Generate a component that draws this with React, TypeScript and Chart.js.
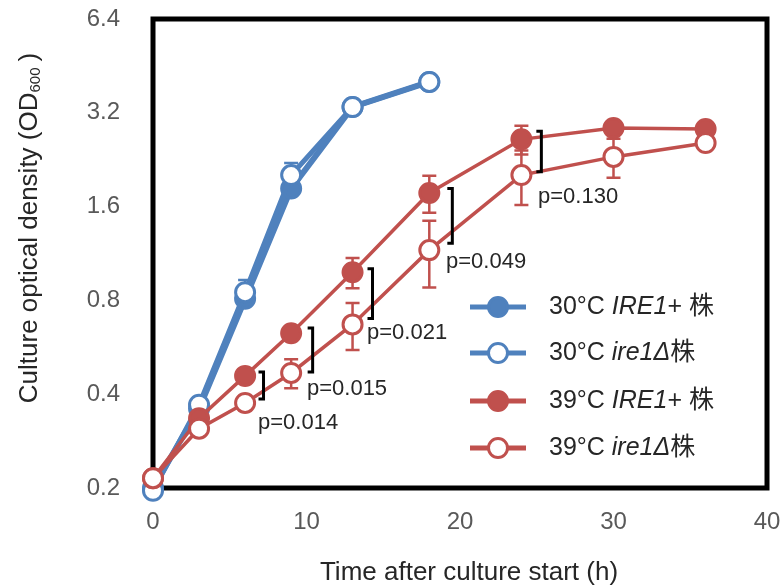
import React, { useEffect, useRef } from "react";
import { Chart, registerables } from "chart.js";

Chart.register(...registerables);

// ---- data ----
const blueTimes = [0, 3, 6, 9, 13, 18];
const redTimes = [0, 3, 6, 9, 13, 18, 24, 30, 36];

const ire1Plus30 = [0.2, 0.36, 0.81, 1.83, 3.34, 4.02];
const ire1Plus30Err = [0.005, 0.01, 0.03, 0.08, 0.05, 0.05];
const ire1Del30 = [0.196, 0.37, 0.85, 2.02, 3.34, 4.02];
const ire1Del30Err = [0.005, 0.02, 0.08, 0.19, 0.05, 0.05];

const ire1Plus39 = [0.215, 0.335, 0.458, 0.628, 0.985, 1.77, 2.63, 2.86, 2.84];
const ire1Plus39Err = [0.004, 0.01, 0.02, 0.02, 0.11, 0.24, 0.28, 0.05, 0.04];
const ire1Del39 = [0.215, 0.31, 0.375, 0.468, 0.67, 1.16, 2.02, 2.31, 2.56];
const ire1Del39Err = [0.004, 0.01, 0.02, 0.05, 0.115, 0.28, 0.4, 0.33, 0.04];

const yTicks = [0.2, 0.4, 0.8, 1.6, 3.2, 6.4];
const xTicks = [0, 10, 20, 30, 40];

const pLabels = ["p=0.014", "p=0.015", "p=0.021", "p=0.049", "p=0.130"];
const bracketTimes = [7.2, 10.4, 14.3, 19.5, 25.3];
const bracketTop = [0.471, 0.652, 1.01, 1.83, 2.79];
const bracketBottom = [0.386, 0.471, 0.7, 1.22, 2.07];
const pLabelTimes = [6.84, 10.03, 13.94, 19.09, 25.08];
const pLabelValues = [0.323, 0.416, 0.628, 1.06, 1.72];

const legendParts = [
  [["30°C ", false], ["IRE1", true], ["+ ", false], ["株", false]],
  [["30°C ", false], ["ire1Δ", true], ["株", false]],
  [["39°C ", false], ["IRE1", true], ["+ ", false], ["株", false]],
  [["39°C ", false], ["ire1Δ", true], ["株", false]],
];

const BLUE = "#4F81BD";
const RED = "#C0504D";
const FONT = '"Liberation Sans", Arial, "Noto Sans CJK JP", sans-serif';

const toPoints = (xs: number[], ys: number[]) => xs.map((x, i) => ({ x, y: ys[i] }));

const framePlugin = {
  id: "frameAndErrors",
  beforeDatasetsDraw(chart: any) {
    const { ctx, chartArea } = chart;
    const xs = chart.scales.x;
    const ys = chart.scales.y;
    ctx.save();
    ctx.strokeStyle = "#000";
    ctx.lineWidth = 5;
    ctx.strokeRect(chartArea.left, chartArea.top, chartArea.right - chartArea.left, chartArea.bottom - chartArea.top);
    // error bars
    chart.data.datasets.forEach((ds: any) => {
      const errs: number[] = ds.errors;
      if (!errs) return;
      ctx.strokeStyle = ds.borderColor;
      ctx.lineWidth = 2.5;
      ds.data.forEach((p: any, i: number) => {
        const e = errs[i];
        const px = xs.getPixelForValue(p.x);
        const top = ys.getPixelForValue(p.y + e);
        const bot = ys.getPixelForValue(Math.max(p.y - e, 0.01));
        ctx.beginPath();
        ctx.moveTo(px, top);
        ctx.lineTo(px, bot);
        ctx.moveTo(px - 7, top);
        ctx.lineTo(px + 7, top);
        ctx.moveTo(px - 7, bot);
        ctx.lineTo(px + 7, bot);
        ctx.stroke();
      });
    });
    ctx.restore();
  },
  afterDatasetsDraw(chart: any) {
    const { ctx } = chart;
    const xs = chart.scales.x;
    const ys = chart.scales.y;
    ctx.save();
    // brackets
    ctx.strokeStyle = "#000";
    ctx.lineWidth = 3;
    bracketTimes.forEach((t, i) => {
      const px = xs.getPixelForValue(t);
      const t1 = ys.getPixelForValue(bracketTop[i]);
      const b1 = ys.getPixelForValue(bracketBottom[i]);
      ctx.beginPath();
      ctx.moveTo(px - 5, t1);
      ctx.lineTo(px, t1);
      ctx.lineTo(px, b1);
      ctx.lineTo(px - 5, b1);
      ctx.stroke();
    });
    // p labels
    ctx.fillStyle = "#262626";
    ctx.font = `22px ${FONT}`;
    ctx.textAlign = "left";
    ctx.textBaseline = "middle";
    pLabels.forEach((s, i) => {
      ctx.fillText(s, xs.getPixelForValue(pLabelTimes[i]), ys.getPixelForValue(pLabelValues[i]));
    });
    ctx.restore();
  },
  afterDraw(chart: any) {
    const { ctx } = chart;
    ctx.save();
    // legend
    const rowsY = [307, 353, 401, 448];
    chart.data.datasets.forEach((ds: any, i: number) => {
      const y = rowsY[i];
      ctx.strokeStyle = ds.borderColor;
      ctx.lineWidth = 5;
      ctx.beginPath();
      ctx.moveTo(470, y);
      ctx.lineTo(526, y);
      ctx.stroke();
      ctx.beginPath();
      ctx.arc(498, y, 9.5, 0, Math.PI * 2);
      ctx.fillStyle = ds.pointBackgroundColor;
      ctx.fill();
      ctx.lineWidth = 3;
      ctx.stroke();
      let x = 549;
      ctx.fillStyle = "#262626";
      ctx.textBaseline = "middle";
      ctx.textAlign = "left";
      (legendParts[i] as any[]).forEach(([txt, it]: [string, boolean]) => {
        ctx.font = `${it ? "italic " : ""}25px ${FONT}`;
        ctx.fillText(txt, x, y);
        x += ctx.measureText(txt).width;
      });
    });
    // x title
    ctx.fillStyle = "#262626";
    ctx.font = `26px ${FONT}`;
    ctx.textAlign = "center";
    ctx.textBaseline = "middle";
    ctx.fillText("Time after culture start (h)", 469, 573);
    // y title with subscript
    ctx.translate(30, 228);
    ctx.rotate(-Math.PI / 2);
    const main = "Culture optical density (OD";
    const sub = "600";
    const end = ")";
    ctx.font = `26px ${FONT}`;
    const w1 = ctx.measureText(main).width;
    const w3 = ctx.measureText(end).width;
    ctx.font = `15px ${FONT}`;
    const w2 = ctx.measureText(sub).width;
    const gap = 6;
    const total = w1 + w2 + gap + w3;
    let sx = -total / 2;
    ctx.textAlign = "left";
    ctx.font = `26px ${FONT}`;
    ctx.fillText(main, sx, 0);
    ctx.font = `15px ${FONT}`;
    ctx.fillText(sub, sx + w1, 6);
    ctx.font = `26px ${FONT}`;
    ctx.fillText(end, sx + w1 + w2 + gap, 0);
    ctx.restore();
  },
};

export default function App() {
  const ref = useRef<HTMLCanvasElement | null>(null);
  useEffect(() => {
    document.body.style.margin = "0";
    const canvas = ref.current!;
    const mk = (label: string, xs: number[], ys: number[], errs: number[], color: string, filled: boolean, lw: number, order: number) => ({
      label,
      data: toPoints(xs, ys),
      errors: errs,
      borderColor: color,
      backgroundColor: color,
      pointBackgroundColor: filled ? color : "#ffffff",
      pointBorderColor: color,
      pointRadius: 9.5,
      pointHoverRadius: 9.5,
      pointBorderWidth: 3,
      borderWidth: lw,
      tension: 0,
      clip: false,
      order,
    });
    const chart = new Chart(canvas, {
      type: "line",
      data: {
        datasets: [
          mk("30°C IRE1+ 株", blueTimes, ire1Plus30, ire1Plus30Err, BLUE, true, 6, 4),
          mk("30°C ire1Δ株", blueTimes, ire1Del30, ire1Del30Err, BLUE, false, 5, 3),
          mk("39°C IRE1+ 株", redTimes, ire1Plus39, ire1Plus39Err, RED, true, 3.5, 2),
          mk("39°C ire1Δ株", redTimes, ire1Del39, ire1Del39Err, RED, false, 3.5, 1),
        ] as any,
      },
      options: {
        animation: false,
        responsive: false,
        devicePixelRatio: 1,
        layout: { padding: { left: 8, top: 19, right: 17, bottom: 0 } },
        plugins: { legend: { display: false }, tooltip: { enabled: false } },
        scales: {
          x: {
            type: "linear",
            min: 0,
            max: 40,
            grid: { display: false, drawTicks: false },
            border: { display: false },
            afterBuildTicks: (s: any) => {
              s.ticks = xTicks.map((v) => ({ value: v }));
            },
            afterFit: (s: any) => {
              s.height = 99;
              s.paddingLeft = 0;
              s.paddingRight = 0;
              s.paddingTop = 0;
              s.paddingBottom = 0;
            },
            ticks: { color: "#595959", font: { family: FONT, size: 24 }, padding: 20, maxRotation: 0 },
          },
          y: {
            type: "logarithmic",
            min: 0.2,
            max: 6.4,
            grid: { display: false, drawTicks: false },
            border: { display: false },
            afterBuildTicks: (s: any) => {
              s.ticks = yTicks.map((v) => ({ value: v }));
            },
            afterFit: (s: any) => {
              s.width = 145;
              s.paddingLeft = 0;
              s.paddingRight = 0;
              s.paddingTop = 0;
              s.paddingBottom = 0;
            },
            ticks: {
              color: "#595959",
              font: { family: FONT, size: 24 },
              padding: 33,
              callback: (v: any) => Number(v).toFixed(1),
            },
          },
        },
      } as any,
      plugins: [framePlugin],
    });
    return () => chart.destroy();
  }, []);
  return (
    <div style={{ width: 784, height: 587 }}>
      <canvas ref={ref} width={784} height={587} style={{ display: "block" }} />
    </div>
  );
}
